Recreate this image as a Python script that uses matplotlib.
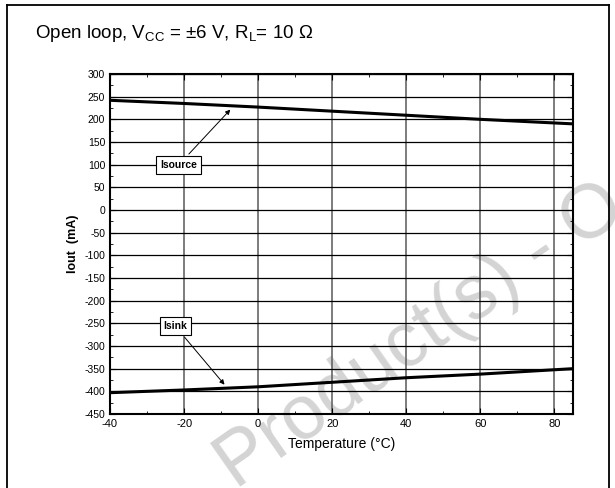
import numpy as np
import matplotlib.pyplot as plt
from matplotlib.lines import Line2D
from matplotlib.ticker import MultipleLocator

plt.rcParams['font.family'] = ['Liberation Sans', 'DejaVu Sans']
plt.rcParams['axes.unicode_minus'] = False
plt.rcParams['mathtext.fontset'] = 'custom'
plt.rcParams['mathtext.rm'] = 'Liberation Sans'

# values
temp = [-40, -20, 0, 20, 40, 60, 85]
isource = [242, 235, 227, 218, 209, 200, 190]
isink = [-403, -397, -390, -380, -370, -362, -350]

fig = plt.figure(figsize=(6.15, 4.88), dpi=100)

# page frame (left, top, right; bottom is cut off)
L, R, T = 6.5 / 615, 608.5 / 615, 1 - 4.5 / 488
for xs, ys in [([L, L], [0, T]), ([L, R], [T, T]), ([R, R], [T, 0])]:
    fig.lines.append(Line2D(xs, ys, transform=fig.transFigure, color='black', lw=1.3))

# watermark, behind everything
fig.text(236/615, -2/488, 'Product(s) - O', fontsize=55, color='#d4d4d4', rotation=35,
         ha='left', va='baseline', rotation_mode='anchor', zorder=-5)

ax = fig.add_axes([110/615, 1 - 414/488, 463/615, 340/488])
ax.patch.set_alpha(0)
ax.plot(temp, isource, color='black', lw=2.2)
ax.plot(temp, isink, color='black', lw=2.2)

ax.set_xlim(-40, 85)
ax.set_ylim(-450, 300)
ax.xaxis.set_major_locator(MultipleLocator(20))
ax.xaxis.set_minor_locator(MultipleLocator(10))
ax.yaxis.set_major_locator(MultipleLocator(50))
ax.yaxis.set_minor_locator(MultipleLocator(25))
ax.tick_params(which='both', direction='in', top=True, right=True, labelsize=7.5)
ax.tick_params(axis='x', labelsize=8)
ax.tick_params(which='major', length=4)
ax.tick_params(which='minor', length=2.5)
ax.grid(axis='y', which='major', color='black', lw=0.9)
ax.grid(axis='x', which='major', color='#666666', lw=1.2)
for s in ax.spines.values():
    s.set_linewidth(1.5)

ax.set_xlabel('Temperature (°C)', fontsize=10, labelpad=6)
ax.set_ylabel('Iout  (mA)', fontsize=9, fontweight='bold', labelpad=4)

box = dict(boxstyle='square,pad=0.35', fc='white', ec='black', lw=0.8)
arr = dict(arrowstyle='-|>', color='black', lw=0.7, mutation_scale=7)
ax.annotate('Isource', xy=(-7, 226), xytext=(-21.5, 99), fontsize=7.5, fontweight='bold',
            ha='center', va='center', bbox=box, arrowprops=arr)
ax.annotate('Isink', xy=(-8.6, -390), xytext=(-22.4, -256), fontsize=7.5, fontweight='bold',
            ha='center', va='center', bbox=box, arrowprops=arr)

fig.text(35/615, 1 - 33/488, r'Open loop, V$_{\mathregular{CC}}$ = ±6 V, R$_{\mathregular{L}}$= 10 $\Omega$',
         fontsize=13.5, va='center', ha='left')

fig.savefig('out.png', dpi=100)
